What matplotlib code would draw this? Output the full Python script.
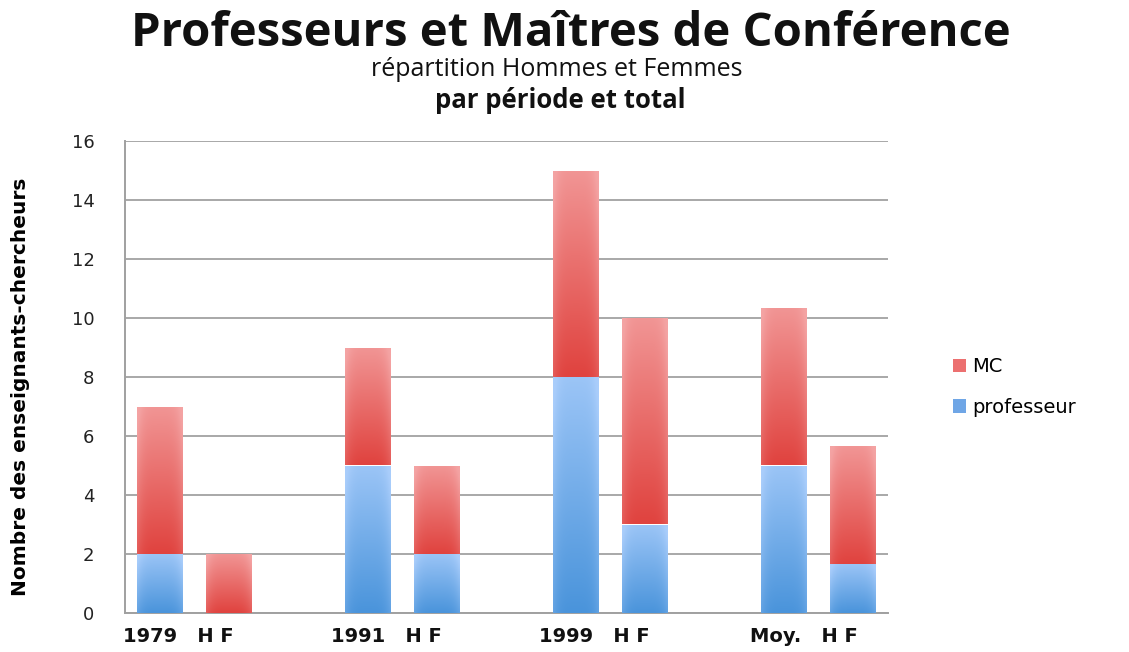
import numpy as np
import matplotlib.pyplot as plt
from matplotlib.colors import LinearSegmentedColormap
from matplotlib.patches import Patch
import matplotlib.transforms as mtransforms

# Data
groups = ["1979", "1991", "1999", "Moy."]
prof_h = [2, 5, 8, 5.0]
mc_h = [5, 4, 7, 5.33]
prof_f = [0, 2, 3, 1.67]
mc_f = [2, 3, 7, 4.0]
yticks = [0, 2, 4, 6, 8, 10, 12, 14, 16]

blue_cmap = LinearSegmentedColormap.from_list("b", ["#4a94db", "#a9cdfb"])
red_cmap = LinearSegmentedColormap.from_list("r", ["#e0433f", "#f4a3a3"])


def gradient_fill(ax, patch, cmap):
    x0, y0 = patch.get_x(), patch.get_y()
    w, h = patch.get_width(), patch.get_height()
    if h <= 0:
        return
    # vertical gradient, a bit lighter at the side edges
    v = np.linspace(0, 1, 64).reshape(-1, 1)
    u = np.linspace(-1, 1, 32).reshape(1, -1)
    grad = np.clip(v * 0.85 + 0.25 * u ** 4, 0, 1)
    im = ax.imshow(grad, cmap=cmap, origin="lower", aspect="auto",
                   extent=(x0, x0 + w, y0, y0 + h), zorder=3,
                   vmin=0, vmax=1, interpolation="bilinear")
    im.set_clip_path(patch)
    patch.set_facecolor("none")
    patch.set_edgecolor("none")


fig = plt.figure(figsize=(11.29, 6.52), dpi=100)
ax = fig.add_axes([125 / 1129, 1 - 613 / 652, 763 / 1129, 472 / 652])

# 11 slots: H, F, gap, H, F, gap, ...
xh = np.arange(len(groups)) * 3
xf = xh + 1
width = 0.66

bars = []
bars.append((ax.bar(xh, prof_h, width, zorder=3), blue_cmap))
bars.append((ax.bar(xh, mc_h, width, bottom=prof_h, zorder=3), red_cmap))
bars.append((ax.bar(xf, prof_f, width, zorder=3), blue_cmap))
bars.append((ax.bar(xf, mc_f, width, bottom=prof_f, zorder=3), red_cmap))

ax.set_xlim(-0.5, 10.5)
ax.set_ylim(0, 16)
for container, cmap in bars:
    for p in container.patches:
        gradient_fill(ax, p, cmap)
ax.set_xlim(-0.5, 10.5)
ax.set_ylim(0, 16)

ax.set_yticks(yticks)
ax.set_yticklabels([str(t) for t in yticks], fontsize=13, color="#222222")
ax.tick_params(axis="y", length=0, pad=22)
ax.set_xticks([])
ax.yaxis.grid(True, color="#a8a8a8", linewidth=1.4, zorder=0)
ax.set_axisbelow(True)
for s in ["top", "right"]:
    ax.spines[s].set_visible(False)
ax.spines["left"].set_color("#a0a0a0")
ax.spines["bottom"].set_color("#a0a0a0")
ax.spines["left"].set_linewidth(1.4)
ax.spines["bottom"].set_linewidth(1.4)

# group labels under the bars
trans = mtransforms.blended_transform_factory(ax.transData, fig.transFigure)
for g, x in zip(groups, xf):
    ax.text(x + 0.06, 1 - 636 / 652, g + "   H F", transform=trans,
            ha="right", va="center", fontsize=14, fontweight="bold",
            color="#111111")

ax.set_ylabel("Nombre des enseignants-chercheurs",
              family=["Liberation Sans Narrow", "DejaVu Sans"],
              fontsize=14.5, fontweight="bold")
ax.yaxis.set_label_coords(-95 / 763, 0.48)

fig.text(571 / 1129, 1 - 34 / 652, "Professeurs et Maîtres de Conférence",
         ha="center", va="center", fontsize=34, fontweight="bold",
         family=["Open Sans", "DejaVu Sans"], color="#111111")
fig.text(557 / 1129, 1 - 70 / 652, "répartition Hommes et Femmes",
         ha="center", va="center", fontsize=18,
         family=["Open Sans", "DejaVu Sans"], color="#111111")
fig.text(560 / 1129, 1 - 100 / 652, "par période et total",
         ha="center", va="center", fontsize=18.5, fontweight="bold",
         family=["Open Sans", "DejaVu Sans"], color="#111111")

handles = [Patch(facecolor="#ec7070", label="MC"),
           Patch(facecolor="#6fa6e6", label="professeur")]
fig.legend(handles=handles, loc="center left",
           bbox_to_anchor=(935 / 1129, 1 - 387 / 652), frameon=False,
           fontsize=14, handlelength=0.7, handleheight=0.7,
           handletextpad=0.3, labelspacing=1.1)

fig.savefig("out.png", dpi=100)
